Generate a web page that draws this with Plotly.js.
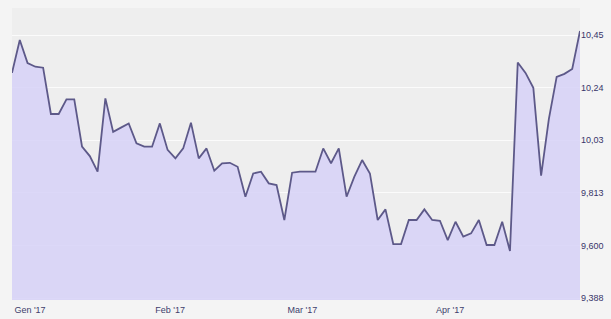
<!DOCTYPE html>
<html>
<head>
<meta charset="utf-8">
<script src="https://cdn.plot.ly/plotly-3.0.1.min.js"></script>
<style>
  html, body { margin: 0; padding: 0; background: #f4f4f4; }
  #chart { width: 611px; height: 319px; }
</style>
</head>
<body>
<div id="chart"></div>
<script>
// Price series (one value per session)
const prices = [
  10.297, 10.430, 10.337, 10.322, 10.318, 10.131, 10.131, 10.190, 10.190, 9.999,
  9.961, 9.898, 10.194, 10.059, 10.076, 10.093, 10.013, 9.999, 9.999, 10.093,
  9.986, 9.952, 9.992, 10.096, 9.952, 9.992, 9.902, 9.932, 9.934, 9.918,
  9.797, 9.891, 9.898, 9.851, 9.844, 9.703, 9.894, 9.898, 9.898, 9.898,
  9.992, 9.932, 9.992, 9.797, 9.878, 9.945, 9.891, 9.703, 9.746, 9.606,
  9.606, 9.703, 9.703, 9.746, 9.703, 9.700, 9.622, 9.696, 9.636, 9.649,
  9.703, 9.602, 9.602, 9.696, 9.578, 10.339, 10.297, 10.237, 9.882, 10.111,
  10.281, 10.293, 10.313, 10.466
];
// Session index of the first session of each month, and the month labels
const monthStart = [0, 18, 35, 54];
const monthLabels = ["Gen '17", "Feb '17", "Mar '17", "Apr '17"];

const sessions = prices.map((_, i) => i);

const trace = {
  x: sessions,
  y: prices,
  type: 'scatter',
  mode: 'lines',
  fill: 'tozeroy',
  fillcolor: 'rgba(212,207,247,0.8)',
  line: { color: '#5d5989', width: 1.8 },
  hoverinfo: 'skip'
};

const layout = {
  width: 611,
  height: 319,
  margin: { l: 12, r: 31, t: 8, b: 19 },
  paper_bgcolor: '#f4f4f4',
  plot_bgcolor: '#eeeeee',
  showlegend: false,
  separators: ',.',
  xaxis: {
    range: [0, sessions.length - 1],
    tickvals: monthStart,
    ticktext: monthLabels,
    ticklabelshift: 18,
    ticklabelstandoff: 3,
    showgrid: false,
    zeroline: false,
    showline: false,
    ticks: '',
    tickfont: { family: 'Liberation Sans, Arial, sans-serif', size: 9, color: '#403e6c' }
  },
  yaxis: {
    side: 'right',
    range: [9.380, 10.559],
    tick0: 9.388,
    dtick: 0.2124,
    tickformat: '.4r',
    showgrid: true,
    gridcolor: '#fbfbfb',
    gridwidth: 1,
    zeroline: false,
    showline: false,
    ticks: '',
    tickfont: { family: 'Liberation Sans, Arial, sans-serif', size: 9, color: '#38356a' }
  }
};

Plotly.newPlot('chart', [trace], layout, { displayModeBar: false, staticPlot: true });
</script>
</body>
</html>
